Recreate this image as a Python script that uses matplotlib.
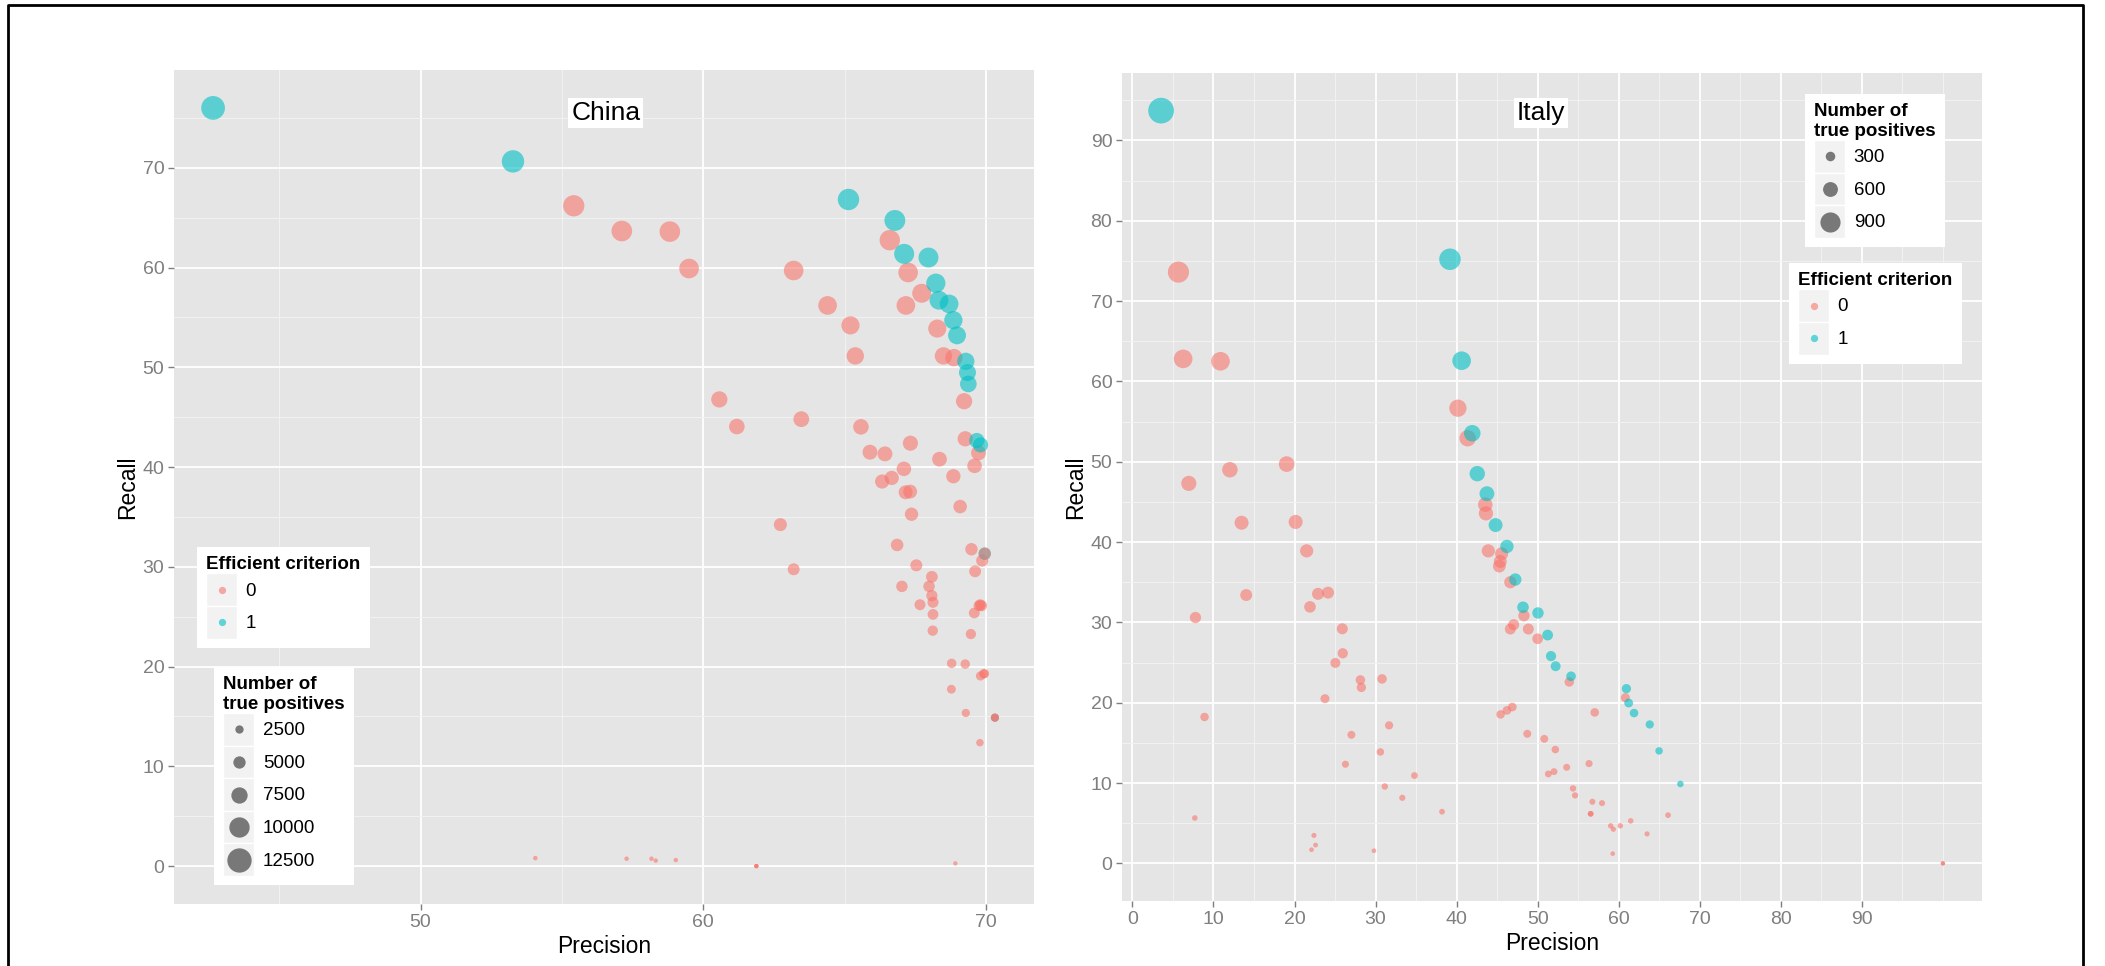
import numpy as np
import matplotlib
matplotlib.use("Agg")
import matplotlib.pyplot as plt
from matplotlib.lines import Line2D
from matplotlib.patches import Rectangle
from matplotlib.legend_handler import HandlerBase

plt.rcParams['font.family'] = ['Liberation Sans', 'DejaVu Sans']

# ---------------- China data ----------------
china_precision = [
    55.42, 57.12, 58.82, 59.50, 66.60, 63.20, 67.25, 67.73, 64.40, 67.17,
    65.21, 68.28, 65.38, 68.50, 68.87, 69.23, 60.57, 61.19, 63.47, 65.58,
    65.90, 66.43, 67.33, 68.36, 69.27, 69.74, 69.60, 67.10, 66.67, 66.33,
    67.16, 67.32, 68.85, 69.09, 67.37, 62.73, 66.86, 69.49, 69.87, 67.54,
    69.62, 63.20, 68.09, 67.03, 67.99, 68.09, 68.13, 67.67, 69.76, 69.85,
    69.80, 69.59, 68.13, 68.12, 69.47, 68.79, 69.27, 69.92, 69.95, 69.81,
    68.78, 69.29, 69.79, 54.06, 57.29, 58.17, 58.32, 59.03, 61.88, 61.88,
    61.88, 68.92,
    42.66, 53.27, 65.14, 66.78, 67.11, 67.97, 68.23, 68.34, 68.70, 68.85,
    68.98, 69.29, 69.35, 69.38, 69.68, 69.81, 69.96, 70.32,
    69.96, 70.32, 70.32]
china_recall = [
    66.19, 63.66, 63.60, 59.90, 62.74, 59.70, 59.50, 57.42, 56.20, 56.20,
    54.20, 53.88, 51.14, 51.14, 50.97, 46.60, 46.78, 44.06, 44.80, 44.03,
    41.49, 41.32, 42.39, 40.79, 42.83, 41.42, 40.12, 39.82, 38.91, 38.55,
    37.47, 37.54, 39.08, 36.04, 35.27, 34.23, 32.19, 31.76, 30.62, 30.15,
    29.55, 29.75, 29.00, 28.04, 28.04, 27.11, 26.44, 26.20, 26.10, 26.10,
    26.20, 25.37, 25.23, 23.60, 23.26, 20.32, 20.25, 19.26, 19.30, 19.06,
    17.73, 15.35, 12.37, 0.80, 0.74, 0.74, 0.55, 0.60, 0.00, 0.00,
    0.00, 0.27,
    76.00, 70.64, 66.82, 64.72, 61.37, 61.00, 58.43, 56.72, 56.35, 54.72,
    53.20, 50.60, 49.47, 48.33, 42.66, 42.22, 31.32, 14.88,
    31.32, 14.88, 14.88]
china_efficient = [0] * 72 + [1] * 18 + [0] * 3
china_tp = [
    10590, 10190, 10180, 9580, 10040, 9550, 9520, 9190, 8990, 8990,
    8670, 8620, 8180, 8180, 8160, 7460, 7480, 7050, 7170, 7040,
    6640, 6610, 6780, 6530, 6850, 6630, 6420, 6370, 6230, 6170,
    6000, 6010, 6250, 5770, 5640, 5480, 5150, 5080, 4900, 4820,
    4730, 4760, 4640, 4490, 4490, 4340, 4230, 4190, 4180, 4180,
    4190, 4060, 4040, 3780, 3720, 3250, 3240, 3080, 3090, 3050,
    2840, 2460, 1980, 130, 120, 120, 90, 100, 0, 0,
    0, 40,
    12160, 11300, 10690, 10360, 9820, 9760, 9350, 9080, 9020, 8760,
    8510, 8100, 7920, 7730, 6830, 6760, 5010, 2380,
    5010, 2380, 2380]
china_x_ticks = [50, 60, 70]
china_y_ticks = [0, 10, 20, 30, 40, 50, 60, 70]
china_size_breaks = [2500, 5000, 7500, 10000, 12500]

# ---------------- Italy data ----------------
italy_precision = [
    5.68, 6.26, 10.87, 40.16, 41.36, 19.03, 12.03, 6.96, 43.54, 43.62,
    13.47, 20.14, 21.50, 43.91, 45.56, 45.39, 45.27, 46.63, 14.04, 22.90,
    24.14, 21.91, 7.78, 48.31, 47.04, 46.63, 48.85, 25.90, 50.00, 25.95,
    25.04, 53.90, 28.13, 28.25, 30.80, 23.76, 60.82, 46.87, 46.21, 45.43,
    57.04, 8.90, 31.67, 27.02, 48.72, 50.82, 52.18, 30.60, 26.28, 56.34,
    53.58, 52.02, 51.32, 34.80, 31.14, 54.36, 54.61, 33.30, 56.75, 57.94,
    38.20, 56.54, 56.54, 66.09, 7.70, 61.48, 60.20, 59.01, 59.34, 63.50,
    22.40, 22.60, 22.10, 29.80, 59.26, 100.00, 100.00,
    3.54, 39.18, 40.62, 41.93, 42.55, 43.74, 44.81, 46.21, 47.24, 48.19,
    50.04, 51.23, 51.65, 52.22, 54.12, 60.95, 61.23, 61.89, 63.83, 64.98,
    67.61]
italy_recall = [
    73.60, 62.80, 62.50, 56.66, 52.92, 49.70, 49.00, 47.30, 44.65, 43.57,
    42.40, 42.50, 38.90, 38.90, 38.54, 37.58, 37.00, 35.00, 33.40, 33.55,
    33.70, 31.93, 30.60, 30.83, 29.71, 29.17, 29.17, 29.20, 27.96, 26.15,
    24.95, 22.58, 22.83, 21.90, 22.96, 20.50, 20.63, 19.46, 19.04, 18.54,
    18.79, 18.22, 17.18, 16.00, 16.13, 15.50, 14.17, 13.87, 12.34, 12.42,
    11.96, 11.42, 11.13, 10.93, 9.57, 9.33, 8.46, 8.16, 7.67, 7.50,
    6.43, 6.17, 6.17, 6.00, 5.65, 5.29, 4.67, 4.67, 4.25, 3.67,
    3.48, 2.28, 1.70, 1.57, 1.21, 0.00, 0.00,
    93.70, 75.20, 62.57, 53.54, 48.51, 46.02, 42.11, 39.45, 35.33, 31.88,
    31.17, 28.42, 25.80, 24.54, 23.29, 21.75, 19.96, 18.71, 17.29, 14.00,
    9.88]
italy_efficient = [0] * 77 + [1] * 21
italy_tp = [
    957, 816, 813, 737, 688, 646, 637, 615, 580, 566,
    551, 553, 506, 506, 501, 489, 481, 455, 434, 436,
    438, 415, 398, 401, 386, 379, 379, 380, 363, 340,
    324, 294, 297, 285, 298, 267, 268, 253, 248, 241,
    244, 237, 223, 208, 210, 202, 184, 180, 160, 161,
    155, 148, 145, 142, 124, 121, 110, 106, 100, 98,
    84, 80, 80, 78, 73, 69, 61, 61, 55, 48,
    45, 30, 22, 20, 16, 0, 0,
    1218, 978, 813, 696, 631, 598, 547, 513, 459, 414,
    405, 369, 335, 319, 303, 283, 259, 243, 225, 182,
    128]
italy_x_ticks = [0, 10, 20, 30, 40, 50, 60, 70, 80, 90]
italy_y_ticks = [0, 10, 20, 30, 40, 50, 60, 70, 80, 90]
italy_size_breaks = [300, 600, 900]

efficient_levels = ['0', '1']

# ---------------- style ----------------
COL = {0: '#F8766D', 1: '#00BFC4'}
ALPHA = 0.6
PANEL_BG = '#E5E5E5'
MINOR_GRID = '#F2F2F2'
TICK_GREY = '#7F7F7F'
KEY_BG = '#F2F2F2'
PX2PT = 72.0 / 100.0

def diam_china(v):
    return 4.3 + 0.0016 * np.asarray(v, dtype=float)

def diam_italy(v):
    return 4.3 + 0.0176 * np.asarray(v, dtype=float)


class KeyHandler(HandlerBase):
    def create_artists(self, legend, orig, xd, yd, w, h, fs, trans):
        r = Rectangle((-xd, -yd), w, h, facecolor=KEY_BG, edgecolor='white',
                      lw=1.0, transform=trans)
        m = Line2D([-xd + w / 2], [-yd + h / 2], ls='', marker='o',
                   ms=orig.get_markersize(), mfc=orig.get_markerfacecolor(),
                   mec='none', alpha=orig.get_alpha(), transform=trans)
        return [r, m]


fig = plt.figure(figsize=(21.05, 9.66), dpi=100)
W, H = 2105.0, 966.0

def add_ax(l, t, r, b):
    return fig.add_axes([l / W, 1 - b / H, (r - l) / W, (b - t) / H])

ax1 = add_ax(174, 70, 1034, 904)
ax2 = add_ax(1122, 73, 1982, 901)


def expand(vals):
    lo, hi = min(vals), max(vals)
    d = (hi - lo) * 0.05
    return lo - d, hi + d


def style_axes(ax, xt, yt, xminor, yminor, xlim, ylim):
    ax.set_facecolor(PANEL_BG)
    for s in ax.spines.values():
        s.set_visible(False)
    ax.set_xlim(*xlim)
    ax.set_ylim(*ylim)
    ax.set_xticks(xt)
    ax.set_yticks(yt)
    ax.set_xticks(xminor, minor=True)
    ax.set_yticks(yminor, minor=True)
    ax.grid(True, which='major', color='white', lw=1.3)
    ax.grid(True, which='minor', color=MINOR_GRID, lw=0.7)
    ax.set_axisbelow(True)
    ax.tick_params(which='major', length=4, width=1, color=TICK_GREY,
                   labelcolor=TICK_GREY, labelsize=14, pad=3)
    ax.tick_params(which='minor', length=0)
    ax.set_xlabel('Precision', fontsize=16.5, labelpad=3)
    ax.set_ylabel('Recall', fontsize=16.5, labelpad=2)


# ---- China panel ----
cx = expand(china_precision)
cy = expand(china_recall)
style_axes(ax1, china_x_ticks, china_y_ticks, [45, 55, 65],
           list(range(5, 80, 10)), cx, cy)
ax1.scatter(china_precision, china_recall,
            s=(diam_china(china_tp) * PX2PT) ** 2,
            c=[COL[e] for e in china_efficient], alpha=ALPHA,
            edgecolors='none', zorder=3)
ax1.text(0.502, 0.948, 'China', transform=ax1.transAxes, ha='center',
         va='center', fontsize=19, zorder=5,
         bbox=dict(facecolor='white', edgecolor='none', pad=2))

# ---- Italy panel ----
ix = expand(italy_precision)
iy = expand(italy_recall)
style_axes(ax2, italy_x_ticks, italy_y_ticks,
           list(range(5, 100, 10)) + [100], list(range(5, 100, 10)), ix, iy)
ax2.scatter(italy_precision, italy_recall,
            s=(diam_italy(italy_tp) * PX2PT) ** 2,
            c=[COL[e] for e in italy_efficient], alpha=ALPHA,
            edgecolors='none', zorder=3)
ax2.text(0.487, 0.952, 'Italy', transform=ax2.transAxes, ha='center',
         va='center', fontsize=19, zorder=5,
         bbox=dict(facecolor='white', edgecolor='none', pad=2))


# ---- legends ----
LEG_KW = dict(frameon=True, facecolor='white', edgecolor='none',
              framealpha=1, fancybox=False, fontsize=13.5,
              title_fontproperties={'weight': 'bold', 'size': 13.5},
              handlelength=1.65, handleheight=2.3, labelspacing=0.0,
              handletextpad=0.45, borderpad=0.5, borderaxespad=0,
              alignment='left', loc='upper left',
              handler_map={Line2D: KeyHandler()},
              bbox_transform=fig.transFigure)


def eff_legend(ax, anchor):
    hs = [Line2D([], [], ls='', marker='o', ms=7.3 * PX2PT,
                 mfc=COL[int(k)], alpha=ALPHA) for k in efficient_levels]
    lg = ax.legend(hs, efficient_levels, title='Efficient criterion',
                   bbox_to_anchor=anchor, **LEG_KW)
    lg.set_zorder(10)
    return lg


def size_legend(ax, breaks, dfun, anchor):
    hs = [Line2D([], [], ls='', marker='o', ms=float(dfun(b)) * PX2PT,
                 mfc='black', alpha=0.5) for b in breaks]
    lg = ax.legend(hs, [str(b) for b in breaks],
                   title='Number of\ntrue positives',
                   bbox_to_anchor=anchor, **LEG_KW)
    lg.set_zorder(10)
    return lg


l1 = eff_legend(ax1, (197 / W, 1 - 547 / H))
ax1.add_artist(l1)
l2 = size_legend(ax1, china_size_breaks, diam_china, (214 / W, 1 - 667 / H))

l3 = size_legend(ax2, italy_size_breaks, diam_italy, (1805 / W, 1 - 94 / H))
ax2.add_artist(l3)
l4 = eff_legend(ax2, (1789 / W, 1 - 263 / H))

# ---- outer frame (open at bottom) ----
fig.add_artist(Line2D([8 / W, 8 / W, 2083 / W, 2083 / W],
                      [0, 1 - 5 / H, 1 - 5 / H, 0],
                      transform=fig.transFigure, color='black', lw=2))

fig.savefig('out.png', dpi=100)
